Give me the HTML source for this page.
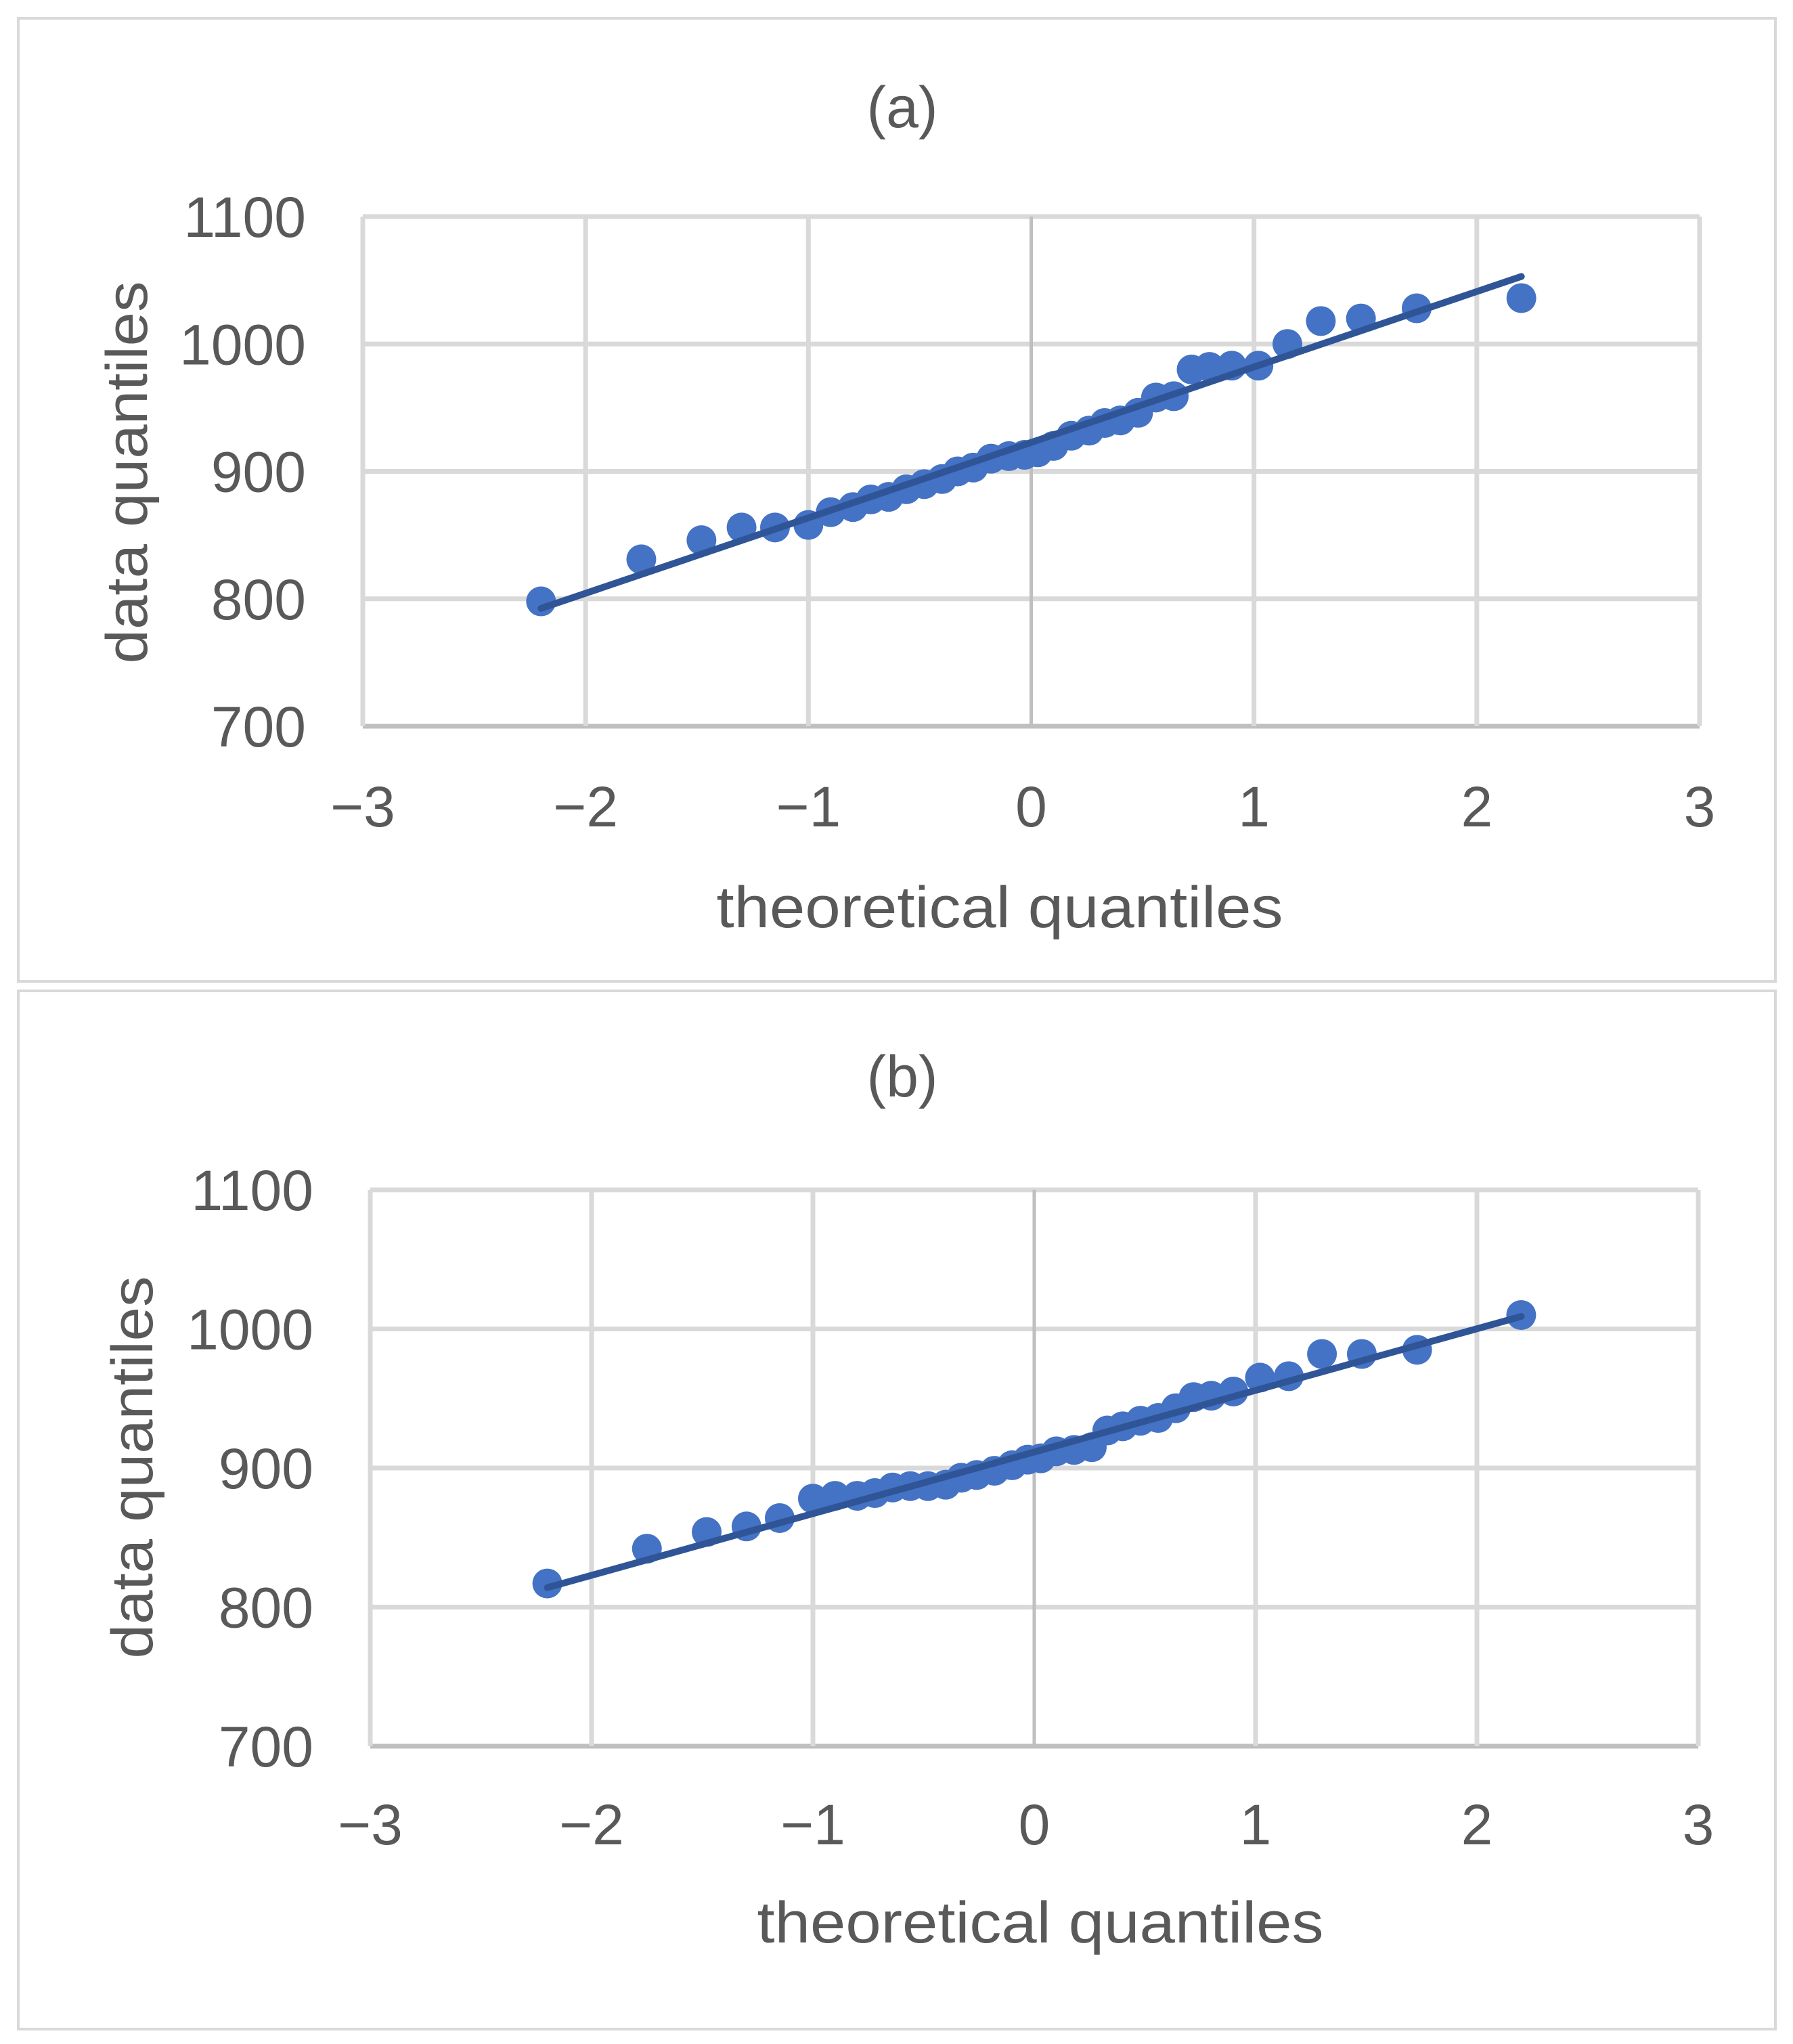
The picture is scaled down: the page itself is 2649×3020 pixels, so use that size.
<!DOCTYPE html>
<html><head><meta charset="utf-8"><style>
html,body{margin:0;padding:0;background:#fff}
svg{display:block}
text{font-family:"Liberation Sans",sans-serif;fill:#595959}
</style></head><body>
<svg id="svg" width="2649" height="3020" viewBox="0 0 2649 3020" xmlns="http://www.w3.org/2000/svg">
<rect x="27" y="27" width="2596" height="1423" fill="#fff" stroke="#d9d9d9" stroke-width="4"/>
<rect x="27" y="1464" width="2596" height="1534" fill="#fff" stroke="#d9d9d9" stroke-width="4"/>
</svg>
<script>
const xTicks=[-3,-2,-1,0,1,2,3];
const yTicks=[700,800,900,1000,1100];
const xTickLabels=["\u22123","\u22122","\u22121","0","1","2","3"];
const yTickLabels=["700","800","900","1000","1100"];
const xA=[-2.2,-1.75,-1.48,-1.3,-1.15,-1.0,-0.9,-0.8,-0.72,-0.64,-0.56,-0.48,-0.4,-0.33,-0.26,-0.18,-0.1,-0.03,0.03,0.1,0.18,0.26,0.33,0.4,0.48,0.56,0.64,0.72,0.8,0.9,1.02,1.15,1.3,1.48,1.73,2.2];
const yA=[798,831,846,856,856,858,868,872,878,880,886,890,894,900,903,910,912,913,915,920,928,932,938,940,946,958,959,980,982,983,983,1000,1018,1020,1028,1036];
const fitA=[[-2.2,792.5],[2.2,1053]];
const xB=[-2.2,-1.75,-1.48,-1.3,-1.15,-1.0,-0.9,-0.8,-0.72,-0.64,-0.56,-0.48,-0.4,-0.33,-0.26,-0.18,-0.1,-0.03,0.03,0.1,0.18,0.26,0.33,0.4,0.48,0.56,0.64,0.72,0.8,0.9,1.02,1.15,1.3,1.48,1.73,2.2];
const yB=[817,842,854,858,864,878,880,880,882,886,887,887,888,893,895,898,902,906,907,912,913,915,927,930,934,936,943,951,952,955,965,966,982,982,985,1010];
const fitB=[[-2.2,814],[2.2,1009]];

const NS="http://www.w3.org/2000/svg";
const svg=document.getElementById('svg');
function mk(tag,attrs,parent){const e=document.createElementNS(NS,tag);for(const k in attrs)e.setAttribute(k,attrs[k]);(parent||svg).appendChild(e);return e;}

function drawPanel(p){
  const g=mk('g',{});
  
  
  const sx=v=>p.x0+(v-xTicks[0])/(xTicks[xTicks.length-1]-xTicks[0])*(p.x1-p.x0);
  const sy=v=>p.y1-(v-yTicks[0])/(yTicks[yTicks.length-1]-yTicks[0])*(p.y1-p.y0);
  yTicks.forEach((t,i)=>{
    const l=mk('line',{x1:p.x0,x2:p.x1,y1:sy(t),y2:sy(t),stroke:i===0?'#bfbfbf':'#d9d9d9','stroke-width':7},g);
    
    
    const tx=mk('text',{x:p.ylx,y:sy(t)+30,'text-anchor':'end','font-size':84},g);
    tx.textContent=yTickLabels[i];
    
    
  });
  xTicks.forEach((t,i)=>{
    const l=mk('line',{x1:sx(t),x2:sx(t),y1:p.y0,y2:p.y1,stroke:t===0?'#bfbfbf':'#d9d9d9','stroke-width':t===0?5:7},g);
    
    
    const tx=mk('text',{x:sx(t),y:p.xly+30,'text-anchor':'middle','font-size':84},g);
    tx.textContent=xTickLabels[i];
    
    
  });
  p.xs.forEach((v,i)=>{
    const c=mk('circle',{cx:sx(v),cy:sy(p.ys[i]),r:22,fill:'#4472C4'},g);
    
    
  });
  const ln=mk('line',{x1:sx(p.fit[0][0]),y1:sy(p.fit[0][1]),x2:sx(p.fit[1][0]),y2:sy(p.fit[1][1]),stroke:'#2F5597','stroke-width':10,'stroke-linecap':'round'},g);
  
  
  const ti=mk('text',{x:1333,y:p.ty+30,'text-anchor':'middle','font-size':86},g);
  ti.textContent=p.title;
  
  
  const xt=mk('text',{x:p.xtx,y:p.xty+30,'text-anchor':'middle','font-size':86,textLength:837,lengthAdjust:'spacingAndGlyphs'},g);
  xt.textContent='theoretical quantiles';
  
  
  const yt=mk('text',{x:0,y:0,'text-anchor':'middle','font-size':86,textLength:565,lengthAdjust:'spacingAndGlyphs',transform:'translate('+(p.ytx+30)+','+p.yty+') rotate(-90)'},g);
  yt.textContent='data quantiles';
  
  
}
drawPanel({id:'a',title:'(a)',x0:536,x1:2511,y0:320,y1:1073,ylx:452,xly:1191,ty:158,xtx:1477,xty:1340,ytx:187,yty:698,xs:xA,ys:yA,fit:fitA});
drawPanel({id:'b',title:'(b)',x0:547,x1:2509,y0:1758,y1:2580,ylx:463,xly:2695,ty:1590,xtx:1537,xty:2840,ytx:195,yty:2168,xs:xB,ys:yB,fit:fitB});
</script>
</body></html>
